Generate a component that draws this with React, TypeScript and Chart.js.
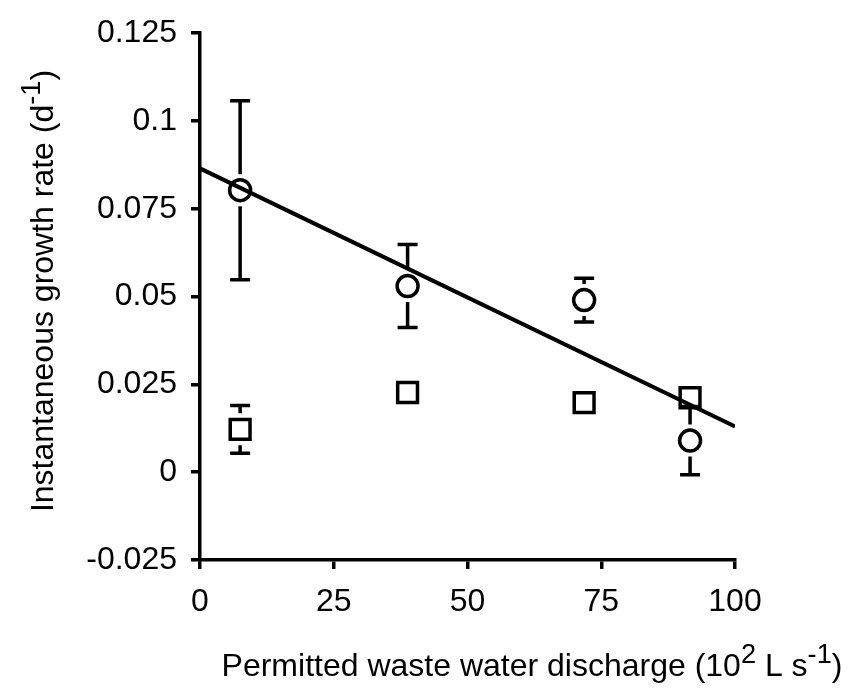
import React, { useEffect, useRef } from "react";
import { Chart, registerables } from "chart.js";

Chart.register(...registerables);

// ---- data ----
const xValues = [7.5, 38.8, 71.8, 91.6];
const circleY = [0.0803, 0.053, 0.049, 0.009];
const circleErr = [0.0255, 0.0118, 0.0062, 0.0097];
const squareY = [0.0122, 0.0227, 0.0198, 0.0212];
const squareErr = [0.0068, 0.002, 0.002, 0.002];
const fitX = [0, 100];
const fitY = [0.0865, 0.013];
const xTicks = [0, 25, 50, 75, 100];
const yTicks = [-0.025, 0, 0.025, 0.05, 0.075, 0.1, 0.125];
const yTickLabels = ["-0.025", "0", "0.025", "0.05", "0.075", "0.1", "0.125"];

const FONT = "'Liberation Sans', Arial, Helvetica, sans-serif";
const TICK_SIZE = 32;
const TITLE_SIZE = 32;

const errorBarPlugin = {
  id: "errorBars",
  afterDatasetsDraw(chart: any) {
    const ctx = chart.ctx;
    const ys = chart.scales.y;
    const gap = 16;
    const half = 10;
    chart.data.datasets.forEach((ds: any, i: number) => {
      const err = ds.errors;
      if (!err) return;
      const meta = chart.getDatasetMeta(i);
      meta.data.forEach((pt: any, j: number) => {
        const v = ds.data[j].y;
        const top = ys.getPixelForValue(v + err[j]);
        const bot = ys.getPixelForValue(v - err[j]);
        const px = pt.x;
        const py = pt.y;
        ctx.save();
        ctx.strokeStyle = "#000";
        ctx.lineWidth = 3.5;
        ctx.lineCap = "butt";
        ctx.beginPath();
        if (py - top > gap) {
          ctx.moveTo(px, py - gap);
          ctx.lineTo(px, top);
          ctx.moveTo(px - half, top);
          ctx.lineTo(px + half, top);
        }
        if (bot - py > gap) {
          ctx.moveTo(px, py + gap);
          ctx.lineTo(px, bot);
          ctx.moveTo(px - half, bot);
          ctx.lineTo(px + half, bot);
        }
        ctx.stroke();
        ctx.restore();
      });
    });
  },
};

type Piece = { t: string; sup?: boolean };

function drawPieces(ctx: CanvasRenderingContext2D, pieces: Piece[], size: number) {
  const supSize = size * 0.85;
  let total = 0;
  const widths = pieces.map((p) => {
    ctx.font = `${p.sup ? supSize : size}px ${FONT}`;
    const w = ctx.measureText(p.t).width;
    total += w;
    return w;
  });
  let x = -total / 2;
  pieces.forEach((p, i) => {
    ctx.font = `${p.sup ? supSize : size}px ${FONT}`;
    ctx.fillText(p.t, x, p.sup ? -size * 0.4 : 0);
    x += widths[i];
  });
}

const titlePlugin = {
  id: "axisTitles",
  afterDraw(chart: any) {
    const ctx = chart.ctx as CanvasRenderingContext2D;
    ctx.save();
    ctx.fillStyle = "#000";
    ctx.textBaseline = "alphabetic";
    ctx.textAlign = "left";
    // x title
    ctx.save();
    ctx.translate(532, 676);
    drawPieces(
      ctx,
      [
        { t: "Permitted waste water discharge (10" },
        { t: "2", sup: true },
        { t: " L s" },
        { t: "-1", sup: true },
        { t: ")" },
      ],
      TITLE_SIZE
    );
    ctx.restore();
    // y title
    ctx.save();
    ctx.translate(53, 291);
    ctx.rotate(-Math.PI / 2);
    drawPieces(
      ctx,
      [
        { t: "Instantaneous growth rate (d" },
        { t: "-1", sup: true },
        { t: ")" },
      ],
      TITLE_SIZE
    );
    ctx.restore();
    ctx.restore();
  },
};

export default function App() {
  const ref = useRef<HTMLCanvasElement | null>(null);

  useEffect(() => {
    if (!ref.current) return;
    const chart = new Chart(ref.current, {
      type: "scatter",
      data: {
        datasets: [
          {
            type: "line",
            data: fitX.map((x, i) => ({ x, y: fitY[i] })),
            borderColor: "#000",
            borderWidth: 4,
            pointRadius: 0,
            fill: false,
          } as any,
          {
            data: xValues.map((x, i) => ({ x, y: circleY[i] })),
            errors: circleErr,
            pointStyle: "circle",
            pointRadius: 10.5,
            borderWidth: 3.5,
            borderColor: "#000",
            backgroundColor: "rgba(0,0,0,0)",
          } as any,
          {
            data: xValues.map((x, i) => ({ x, y: squareY[i] })),
            errors: squareErr,
            pointStyle: "rect",
            pointRadius: 14,
            borderWidth: 3.5,
            borderColor: "#000",
            backgroundColor: "rgba(0,0,0,0)",
          } as any,
        ],
      },
      options: {
        responsive: false,
        animation: false,
        layout: { padding: { left: 0, top: 27, right: 132, bottom: 0 } },
        plugins: {
          legend: { display: false },
          tooltip: { enabled: false },
          title: { display: false },
        },
        scales: {
          x: {
            type: "linear",
            min: 0,
            max: 100,
            afterBuildTicks: (s: any) => {
              s.ticks = xTicks.map((v) => ({ value: v }));
            },
            afterFit: (s: any) => {
              s.height = 130;
            },
            ticks: {
              color: "#000",
              font: { family: FONT, size: TICK_SIZE },
              padding: 14,
              maxRotation: 0,
              callback: (v: any) => String(v),
            },
            grid: {
              display: true,
              drawOnChartArea: false,
              drawTicks: true,
              tickLength: 9,
              lineWidth: 3.5,
              color: "#000",
            },
            border: { display: true, color: "#000", width: 3.5 },
          },
          y: {
            type: "linear",
            min: -0.025,
            max: 0.125,
            afterBuildTicks: (s: any) => {
              s.ticks = yTicks.map((v) => ({ value: v }));
            },
            afterFit: (s: any) => {
              s.width = 200;
            },
            ticks: {
              color: "#000",
              font: { family: FONT, size: TICK_SIZE },
              padding: 14,
              callback: (v: any) => {
                const idx = yTicks.findIndex((t) => Math.abs(t - v) < 1e-9);
                return idx >= 0 ? yTickLabels[idx] : "";
              },
            },
            grid: {
              display: true,
              drawOnChartArea: false,
              drawTicks: true,
              tickLength: 9,
              lineWidth: 3.5,
              color: "#000",
            },
            border: { display: true, color: "#000", width: 3.5 },
          },
        },
      } as any,
      plugins: [errorBarPlugin, titlePlugin],
    });
    return () => chart.destroy();
  }, []);

  return (
    <div style={{ position: "fixed", left: 0, top: 0, width: 867, height: 690, background: "#fff" }}>
      <canvas ref={ref} width={867} height={690} style={{ width: 867, height: 690 }} />
    </div>
  );
}
